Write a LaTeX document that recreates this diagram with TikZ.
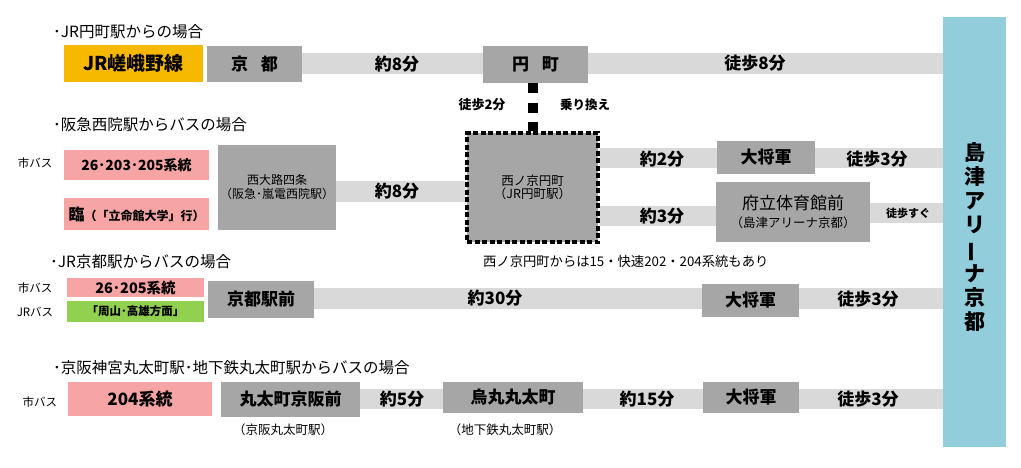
\documentclass[tikz,border=0pt]{standalone}
\usepackage{fontspec}
\setmainfont{Noto Sans CJK JP}
\definecolor{orangeA}{HTML}{F7B800}
\definecolor{boxgray}{HTML}{A6A6A6}
\definecolor{bandgray}{HTML}{D9D9D9}
\definecolor{pinkA}{HTML}{F7A4A4}
\definecolor{greenA}{HTML}{92D050}
\definecolor{arenablue}{HTML}{92CDDC}
\newcommand{\fsz}[1]{\fontsize{#1}{#1}\selectfont}
\begin{document}
\begin{tikzpicture}[x=1pt,y=-1pt,
  box/.style={fill=boxgray, inner sep=0pt, font=\bfseries\fsz{17}, text=black},
  pinkbox/.style={box, fill=pinkA},
  band/.style={draw=bandgray, line width=20pt},
  lbl/.style={inner sep=0pt, font=\bfseries\fsz{17}},
  small/.style={inner sep=0pt, font=\fsz{11.5}},
  head/.style={inner sep=0pt, anchor=west, font=\fsz{15.5}},
  sub/.style={inner sep=0pt, font=\fsz{12.5}}]
\useasboundingbox (0,0) rectangle (1021,467);
\fill[white] (0,0) rectangle (1021,467);

% ---------- headings
\node[head] (h1) at (53,32) {･JR円町駅からの場合};
\node[head] (h2) at (53,125) {･阪急西院駅からバスの場合};
\node[head] (h3) at (50,262) {･JR京都駅からバスの場合};
\node[head] (h4) at (53,368) {･京阪神宮丸太町駅･地下鉄丸太町駅からバスの場合};

% ---------- arena
\node[box, fill=arenablue, minimum width=63, minimum height=430] (arena) at (974.5,232) {};
\node[inner sep=0pt, align=center, font=\bfseries\fontsize{21}{24.2}\selectfont] (arenatxt) at (974.5,237)
  {島\\津\\ア\\リ\\\rotatebox[origin=c]{90}{ー}\\ナ\\京\\都};

% ---------- row 1
\node[box, fill=orangeA, minimum width=139, minimum height=37, font=\bfseries\fsz{19}] (sagano) at (133.5,63.5) {JR嵯峨野線};
\node[box, minimum width=95, minimum height=36] (kyoto) at (254.5,64) {京\hspace{13pt}都};
\node[box, minimum width=105, minimum height=37] (enmachi) at (535.5,64.5) {円\hspace{13pt}町};
\draw[band, line width=21pt] (kyoto.east |- 0,63.5) -- (enmachi.west |- 0,63.5);
\draw[band, line width=21pt] (enmachi.east |- 0,63.5) -- (arena.west |- 0,63.5);
\node[lbl] (l1a) at (397,64) {約8分};
\node[lbl] (l1b) at (755,63) {徒歩8分};

% ---------- transfer
\node[box, minimum width=131, minimum height=109, draw=black, line width=3.5pt,
  dash pattern=on 5pt off 2.5pt, align=center, font=\fsz{12.5}] (nishinokyo) at (532.5,187.5)
  {西ノ京円町\\[1pt]（JR円町駅）};
\draw[line width=10pt, dash pattern=on 10pt off 9.3pt] (nishinokyo.north |- enmachi.south) -- (nishinokyo.north);
\node[inner sep=0pt, font=\bfseries\fsz{13}] (walk2) at (482,105) {徒歩2分};
\node[inner sep=0pt, font=\bfseries\fsz{12.5}] (norikae) at (585,105) {乗り換え};

% ---------- row 2
\node[small] (city1) at (35,163) {市バス};
\node[pinkbox, minimum width=145, minimum height=30, font=\bfseries\fsz{14}] (b1) at (136.5,165) {26･203･205系統};
\node[pinkbox, minimum width=145, minimum height=32, font=\bfseries\fsz{12}] (b2) at (136.5,214) {{\fsz{16}臨}（「立命館大学」行）};
\node[box, minimum width=118, minimum height=85, align=center, font=\fsz{12}] (nishioji) at (277,187.5)
  {西大路四条\\[2pt]（阪急･嵐電西院駅）};
\draw[band, line width=21pt] (nishioji.east |- 0,191) -- (nishinokyo.west |- 0,191);
\node[lbl] (l2a) at (397,191) {約8分};
\node[box, minimum width=98, minimum height=33] (taisho1) at (766,157.5) {大将軍};
\node[box, minimum width=154, minimum height=60, align=center, font=\fsz{17}] (furitsu) at (793,212)
  {府立体育館前\\[1pt]{\fsz{12.5}（島津アリーナ京都）}};
\draw[band] (nishinokyo.east |- 0,158) -- (taisho1.west |- 0,158);
\draw[band] (taisho1.east |- 0,158) -- (arena.west |- 0,158);
\draw[band] (nishinokyo.east |- 0,216) -- (furitsu.west |- 0,216);
\draw[band] (furitsu.east |- 0,212.5) -- (arena.west |- 0,212.5);
\node[lbl] (l2b) at (662,159) {約2分};
\node[lbl] (l2c) at (877,159) {徒歩3分};
\node[lbl] (l2d) at (662,216) {約3分};
\node[inner sep=0pt, font=\bfseries\fsz{11}] (l2e) at (908,213) {徒歩すぐ};
\node[inner sep=0pt, anchor=west, font=\fsz{13.3}] (note) at (483,261) {西ノ京円町からは15・快速202・204系統もあり};

% ---------- row 3
\node[small] (city2) at (35,288) {市バス};
\node[small] (jrbus) at (35,312) {JRバス};
\node[pinkbox, minimum width=137, minimum height=19, font=\bfseries\fsz{14.5}] (b3) at (135.5,287.5) {26･205系統};
\node[box, fill=greenA, minimum width=137, minimum height=21, font=\bfseries\fsz{11.5}] (b4) at (135.5,311.5) {「周山･高雄方面」};
\node[box, minimum width=106, minimum height=37] (kyotoeki) at (261,299.5) {京都駅前};
\node[box, minimum width=97, minimum height=33] (taisho2) at (750.5,300.5) {大将軍};
\draw[band, line width=21pt] (kyotoeki.east |- 0,298.5) -- (taisho2.west |- 0,298.5);
\draw[band, line width=21pt] (taisho2.east |- 0,298.5) -- (arena.west |- 0,298.5);
\node[lbl] (l3a) at (495,298) {約30分};
\node[lbl] (l3b) at (868,299) {徒歩3分};

% ---------- row 4
\node[small] (city3) at (40,402) {市バス};
\node[pinkbox, minimum width=144, minimum height=34] (b5) at (140,399) {204系統};
\node[box, minimum width=139, minimum height=35] (marutamachi) at (290.5,399.5) {丸太町京阪前};
\node[box, minimum width=140, minimum height=31] (karasuma) at (513,397.5) {烏丸丸太町};
\node[box, minimum width=96, minimum height=31] (taisho3) at (751,397.5) {大将軍};
\draw[band] (marutamachi.east |- 0,398.5) -- (karasuma.west |- 0,398.5);
\draw[band] (karasuma.east |- 0,398.5) -- (taisho3.west |- 0,398.5);
\draw[band] (taisho3.east |- 0,398.5) -- (arena.west |- 0,398.5);
\node[lbl] (l4a) at (402,399) {約5分};
\node[lbl] (l4b) at (647,399) {約15分};
\node[lbl] (l4c) at (868,399) {徒歩3分};
\node[sub] (s4a) at (283,430) {（京阪丸太町駅）};
\node[sub] (s4b) at (505,430) {（地下鉄丸太町駅）};
\end{tikzpicture}
\end{document}
